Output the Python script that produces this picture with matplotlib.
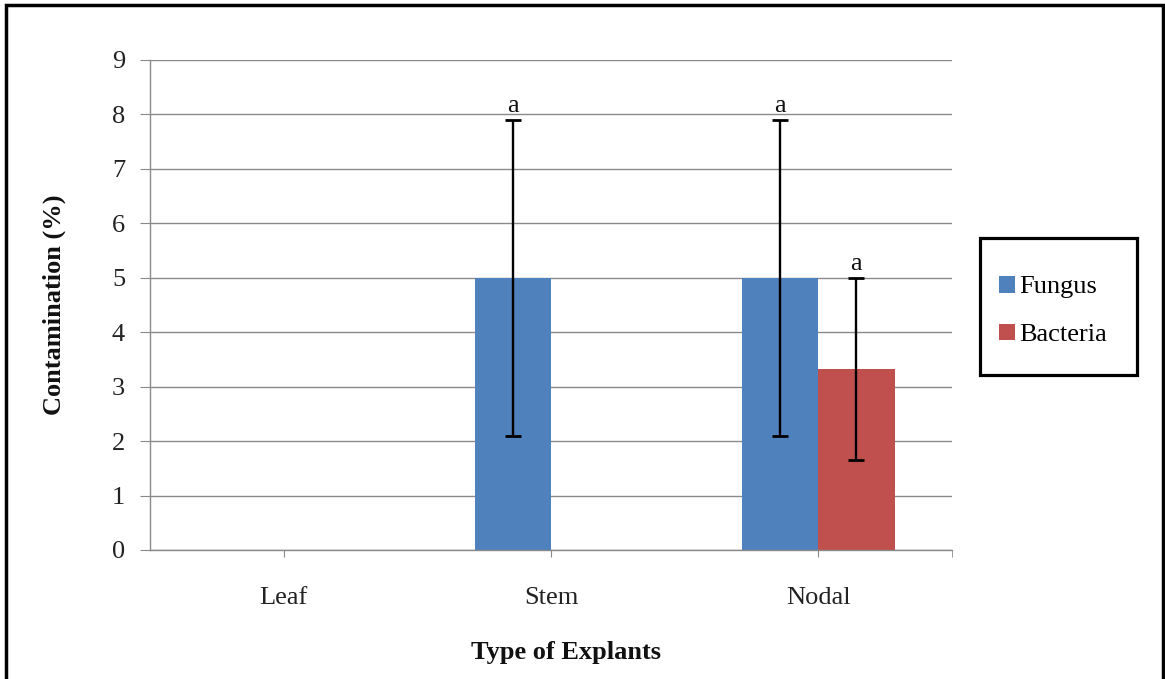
import matplotlib
matplotlib.use("Agg")
import matplotlib.pyplot as plt
import numpy as np
from matplotlib.patches import Rectangle

categories = ["Leaf", "Stem", "Nodal"]
series_names = ["Fungus", "Bacteria"]
fungus = [0, 5, 5]
bacteria = [0, 0, 3.33]
fungus_err = [0, 2.9, 2.9]
bacteria_err = [0, 0, 1.67]
fungus_letters = ["", "a", "a"]
bacteria_letters = ["", "", "a"]
yticks = [0, 1, 2, 3, 4, 5, 6, 7, 8, 9]

plt.rcParams['font.family'] = ['Liberation Serif', 'DejaVu Serif']

W, H = 1165, 679
fig = plt.figure(figsize=(W / 100, H / 100), dpi=100)
ax = fig.add_axes([150 / W, 1 - 550 / H, (952 - 150) / W, (550 - 60) / H])

x = np.arange(len(categories))
bw = 0.285
c_f = "#4F81BD"
c_b = "#C0504D"
ax.bar(x - bw / 2, fungus, bw, color=c_f, label=series_names[0], zorder=2)
ax.bar(x + bw / 2, bacteria, bw, color=c_b, label=series_names[1], zorder=2)

fs = 19
for xs, vals, errs, letters in [(x - bw / 2, fungus, fungus_err, fungus_letters),
                                (x + bw / 2, bacteria, bacteria_err, bacteria_letters)]:
    for xi, v, e, l in zip(xs, vals, errs, letters):
        if e > 0:
            ax.errorbar(xi, v, yerr=e, fmt='none', ecolor='black', elinewidth=1.7,
                        capsize=5.5, capthick=2.0, zorder=3)
        if l:
            ax.annotate(l, (xi, v + e), xytext=(0, 2), textcoords='offset points',
                        ha='center', va='bottom', fontsize=fs, color='#111111')

ax.set_xlim(-0.5, 2.5)
ax.set_ylim(0, 9)
ax.set_yticks(yticks)
ax.set_xticks(x)
ax.set_xticklabels(categories)
ax.set_xticks([2.5], minor=True)
ax.grid(axis='y', color='#8a8a8a', linewidth=1.0, zorder=0)
ax.set_axisbelow(True)
for s in ['top', 'right']:
    ax.spines[s].set_visible(False)
for s in ['left', 'bottom']:
    ax.spines[s].set_color('#8a8a8a')
    ax.spines[s].set_linewidth(1.0)
ax.tick_params(axis='y', length=7, color='#8a8a8a', pad=11, labelsize=fs, labelcolor='#222222')
ax.tick_params(axis='x', which='both', length=5, color='#8a8a8a', pad=22, labelsize=fs, labelcolor='#222222')

ax.set_ylabel("Contamination (%)", fontsize=fs, fontweight='bold', color='#111111')
ax.yaxis.set_label_coords((66 - 150) / 802, 0.5)
fig.text(566 / W, 1 - 652 / H, "Type of Explants", ha='center', va='center',
         fontsize=fs, fontweight='bold', color='#111111')

leg = fig.legend(loc='center left', bbox_to_anchor=(999 / W, 1 - 311 / H),
                 fontsize=fs, frameon=False,
                 handlelength=0.6, handleheight=0.6, handletextpad=0.15,
                 labelspacing=0.95, borderpad=0, borderaxespad=0)

fig.patches.append(Rectangle((980 / W, 1 - 375 / H), (1137 - 980) / W, (375 - 238) / H,
                             transform=fig.transFigure, fill=False,
                             edgecolor='black', linewidth=2.3, figure=fig))

fig.patches.append(Rectangle((6 / W, -0.05), (1163 - 6) / W, 1.05 - 5 / H,
                             transform=fig.transFigure, fill=False,
                             edgecolor='black', linewidth=2.5, figure=fig))

fig.savefig("out.png", dpi=100, facecolor='white')
